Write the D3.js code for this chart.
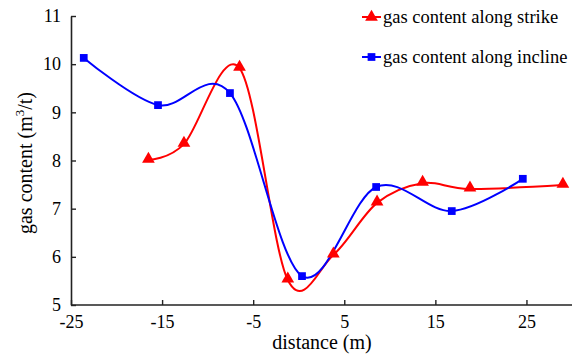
<!DOCTYPE html>
<html>
<head>
<meta charset="utf-8">
<script src="https://cdn.jsdelivr.net/npm/d3@7"></script>
<style>
  body { margin: 0; background: #fff; }
  svg { display: block; }
  svg text { font-family: "Times New Roman", "Liberation Serif", "DejaVu Serif", serif; }
</style>
</head>
<body>
<svg id="chart"></svg>
<script>
// values
const strikeX = [-16.5, -12.6, -6.5, -1.2, 3.8, 8.6, 13.6, 18.8, 29.0];
const strikeY = [8.01, 8.34, 9.92, 5.52, 6.04, 7.12, 7.53, 7.41, 7.49];
const inclineX = [-23.6, -15.45, -7.55, 0.36, 8.5, 16.8, 24.6];
const inclineY = [10.13, 9.15, 9.40, 5.60, 7.45, 6.95, 7.62];
const xTicks = [-25, -15, -5, 5, 15, 25];
const yTicks = [5, 6, 7, 8, 9, 10, 11];

const width = 583, height = 357;
const margin = {left: 71, right: 11, top: 16, bottom: 52};

const svg = d3.select("#chart")
    .attr("width", width)
    .attr("height", height);

const x = d3.scaleLinear().domain([-25, 30]).range([margin.left, width - margin.right]);
const y = d3.scaleLinear().domain([5, 11]).range([height - margin.bottom, margin.top]);

const fmt = d => String(d); // plain hyphen minus like the original

// axes, ticks pointing inward
const xAxis = svg.append("g")
    .attr("transform", `translate(0,${y(5)})`)
    .call(d3.axisBottom(x).tickValues(xTicks).tickFormat(fmt).tickSizeInner(-5).tickSizeOuter(0).tickPadding(10));
const yAxis = svg.append("g")
    .attr("transform", `translate(${x(-25)},0)`)
    .call(d3.axisLeft(y).tickValues(yTicks).tickFormat(fmt).tickSizeInner(-5).tickSizeOuter(0).tickPadding(10));

[xAxis, yAxis].forEach(a => {
    a.attr("font-family", null);
    a.select(".domain").attr("stroke", "#222").attr("stroke-width", 1.6);
    a.selectAll(".tick line").attr("stroke", "#222").attr("stroke-width", 1.4);
    a.selectAll(".tick text").attr("font-size", 18).attr("fill", "#000");
});
// x axis line runs to the end of the plot
xAxis.select(".domain").attr("d", `M${x(-25)},0H${x(30)}`);

svg.append("text")
    .attr("x", 322).attr("y", 349)
    .attr("text-anchor", "middle")
    .attr("font-size", 20)
    .text("distance (m)");

const yl = svg.append("text")
    .attr("transform", `translate(32,163) rotate(-90)`)
    .attr("text-anchor", "middle")
    .attr("font-size", 20);
yl.append("tspan").text("gas content (m");
yl.append("tspan").attr("font-size", 13).attr("dy", -8).text("3");
yl.append("tspan").attr("dy", 8).text("/t)");

const line = d3.line()
    .x(d => x(d[0]))
    .y(d => y(d[1]))
    .curve(d3.curveCardinal.tension(0));

const strike = strikeX.map((v, i) => [v, strikeY[i]]);
const incline = inclineX.map((v, i) => [v, inclineY[i]]);

const tri = d3.symbol().type(d3.symbolTriangle).size(70);
const sq = d3.symbol().type(d3.symbolSquare).size(60);

svg.append("path").datum(strike)
    .attr("fill", "none").attr("stroke", "#ff0000").attr("stroke-width", 2)
    .attr("d", line);
svg.append("path").datum(incline)
    .attr("fill", "none").attr("stroke", "#0000ff").attr("stroke-width", 2)
    .attr("d", line);

svg.append("g").selectAll("path")
    .data(strike).enter().append("path")
    .attr("d", tri).attr("fill", "#ff0000")
    .attr("transform", d => `translate(${x(d[0])},${y(d[1]) - 1})`);
svg.append("g").selectAll("path")
    .data(incline).enter().append("path")
    .attr("d", sq).attr("fill", "#0000ff")
    .attr("transform", d => `translate(${x(d[0])},${y(d[1])})`);

// legend
const legend = [
    {label: "gas content along strike", color: "#ff0000", sym: tri, ly: 17},
    {label: "gas content along incline", color: "#0000ff", sym: sq, ly: 57}
];
const lg = svg.append("g").selectAll("g")
    .data(legend).enter().append("g")
    .attr("transform", d => `translate(362,${d.ly})`);
lg.append("line").attr("x1", 0).attr("x2", 19)
    .attr("stroke", d => d.color).attr("stroke-width", 2);
lg.append("path").attr("d", d => d.sym()).attr("fill", d => d.color)
    .attr("transform", "translate(9.5,0)");
lg.append("text").attr("x", 21).attr("y", 6)
    .attr("font-size", 18.5)
    .text(d => d.label);
</script>
</body>
</html>
